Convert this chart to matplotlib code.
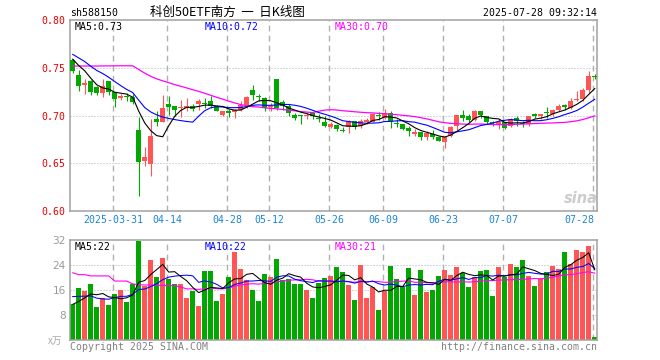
import numpy as np
import pandas as pd
import matplotlib
matplotlib.use("Agg")
from matplotlib import pyplot as plt
from matplotlib.transforms import blended_transform_factory

# daily K-line, 2025-03-20 .. 2025-07-28 (88 trading days)
opens = [0.758, 0.742, 0.7316, 0.736, 0.730, 0.7236, 0.736, 0.7247, 0.718, 0.7205,
         0.719, 0.6847, 0.652, 0.6493, 0.6962, 0.6934, 0.7125, 0.7097, 0.7083, 0.7076,
         0.710, 0.7118, 0.7135, 0.7153, 0.710, 0.7003, 0.7049, 0.704, 0.7056, 0.7111,
         0.7264, 0.7205, 0.7188, 0.709, 0.7378, 0.7146, 0.710, 0.7003, 0.6997, 0.6993,
         0.7028, 0.6976, 0.6934, 0.6882, 0.6903, 0.6847, 0.6882, 0.6941, 0.6885, 0.6934,
         0.6934, 0.7003, 0.6979, 0.7031, 0.6917, 0.691, 0.6868, 0.6806, 0.6823, 0.6771,
         0.6806, 0.6771, 0.6719, 0.6788, 0.6892, 0.7003, 0.6997, 0.6958, 0.7042, 0.6997,
         0.6924, 0.691, 0.6927, 0.6892, 0.6972, 0.6917, 0.691, 0.7014, 0.6997, 0.7031,
         0.7014, 0.7056, 0.7101, 0.7083, 0.716, 0.717, 0.7264, 0.7413]
highs = [0.759, 0.748, 0.738, 0.737, 0.731, 0.738, 0.736, 0.725, 0.723, 0.724,
         0.723, 0.698, 0.6667, 0.6962, 0.7042, 0.7215, 0.7205, 0.7097, 0.7163, 0.7188,
         0.7118, 0.717, 0.7184, 0.7205, 0.711, 0.7052, 0.7073, 0.7066, 0.7153, 0.7205,
         0.7319, 0.7229, 0.719, 0.7135, 0.738, 0.716, 0.7118, 0.7031, 0.7003, 0.7031,
         0.7031, 0.7014, 0.6997, 0.6927, 0.691, 0.6875, 0.6951, 0.6944, 0.6962, 0.6979,
         0.7031, 0.7038, 0.7066, 0.7042, 0.6962, 0.691, 0.6892, 0.6858, 0.683, 0.684,
         0.6847, 0.6788, 0.6771, 0.6892, 0.7003, 0.7056, 0.7014, 0.7056, 0.7049, 0.6997,
         0.6944, 0.6962, 0.6927, 0.6979, 0.6997, 0.6944, 0.6997, 0.7031, 0.7014, 0.709,
         0.7066, 0.7118, 0.7118, 0.7181, 0.7257, 0.7292, 0.7465, 0.7438]
lows = [0.745, 0.726, 0.723, 0.7215, 0.7215, 0.7195, 0.7215, 0.709, 0.716, 0.715,
        0.712, 0.6158, 0.6472, 0.6368, 0.6892, 0.6927, 0.7007, 0.6997, 0.6986, 0.7042,
        0.7042, 0.7056, 0.7083, 0.7076, 0.7045, 0.700, 0.6986, 0.6979, 0.7049, 0.7083,
        0.716, 0.7153, 0.7049, 0.7042, 0.7059, 0.7056, 0.6997, 0.6955, 0.691, 0.6962,
        0.6962, 0.6927, 0.6875, 0.6868, 0.684, 0.6823, 0.6816, 0.6858, 0.6868, 0.691,
        0.6927, 0.6955, 0.6962, 0.6868, 0.6882, 0.6847, 0.6788, 0.6788, 0.6743, 0.6743,
        0.6753, 0.6729, 0.666, 0.6778, 0.6847, 0.6944, 0.6934, 0.6944, 0.6979, 0.691,
        0.6892, 0.6858, 0.6858, 0.6882, 0.6892, 0.6882, 0.6892, 0.6979, 0.6962, 0.6972,
        0.6997, 0.7042, 0.7056, 0.7066, 0.7153, 0.7153, 0.724, 0.7378]
closes = [0.747, 0.731, 0.734, 0.725, 0.724, 0.7305, 0.7247, 0.7177, 0.720, 0.719,
          0.7145, 0.6517, 0.6563, 0.6788, 0.6934, 0.7083, 0.7094, 0.7059, 0.7094, 0.710,
          0.7073, 0.715, 0.7125, 0.710, 0.7049, 0.7049, 0.7024, 0.7055, 0.7111, 0.7194,
          0.7212, 0.7194, 0.7076, 0.710, 0.7083, 0.710, 0.7031, 0.6972, 0.699, 0.7007,
          0.699, 0.6965, 0.6892, 0.691, 0.6858, 0.684, 0.6944, 0.6882, 0.6944, 0.6958,
          0.7014, 0.699, 0.7031, 0.6927, 0.691, 0.6858, 0.684, 0.683, 0.6778, 0.6816,
          0.6771, 0.6736, 0.6771, 0.6882, 0.7003, 0.6969, 0.6951, 0.7049, 0.7003, 0.6927,
          0.6917, 0.6927, 0.6868, 0.6962, 0.6944, 0.691, 0.6997, 0.6997, 0.7014, 0.7021,
          0.7056, 0.7101, 0.7094, 0.7153, 0.7177, 0.7264, 0.7413, 0.7403]
volumes = [11.4, 16.6, 15.7, 18.0, 10.7, 13.4, 11.2, 14.7, 16.0, 12.2,
           17.9, 31.7, 17.3, 25.6, 20.2, 26.2, 19.4, 17.9, 17.9, 13.4,
           15.7, 10.9, 22.1, 22.1, 12.5, 14.7, 20.2, 28.2, 22.7, 19.3,
           16.1, 12.5, 21.1, 20.2, 25.9, 19.3, 19.6, 17.9, 17.9, 16.1,
           13.4, 18.4, 19.8, 20.5, 23.4, 21.9, 17.6, 12.8, 24.0, 13.3,
           17.0, 9.7, 15.7, 23.7, 19.6, 17.0, 23.0, 14.4, 22.4, 15.5,
           16.0, 20.5, 22.4, 20.8, 23.4, 21.4, 17.0, 20.3, 22.2, 22.4,
           14.1, 23.4, 20.2, 24.3, 23.4, 25.6, 20.5, 17.3, 19.8, 21.8,
           23.7, 22.6, 28.2, 24.2, 28.8, 28.3, 30.1, 1.0]

# sessions before the window, only needed to start the moving averages
prior_closes = [0.731, 0.733, 0.726, 0.724, 0.728, 0.722, 0.716, 0.719, 0.719, 0.716,
                0.765, 0.772, 0.778, 0.775, 0.770, 0.768, 0.765, 0.762, 0.763, 0.762,
                0.768, 0.772, 0.774, 0.768, 0.763, 0.764, 0.762, 0.763, 0.759]
prior_volumes = [34.6, 15.7, 30.0, 10.7, 13.4, 11.2, 64.0, 16.0, 12.2, 44.9,
                 40.7, 19.0, 27.1, 21.7, 27.7, 20.9, 19.4, 29.9, 31.4, 15.7,
                 16.0, 15.0, 17.0, 18.0, 16.0, 12.0, 10.0, 11.6, 12.0]

tick_idx = [7, 16, 26, 33, 43, 52, 62, 72, 87]
tick_labels = ["2025-03-31", "04-14", "04-28", "05-12", "05-26",
               "06-09", "06-23", "07-07", "07-28"]
price_ticks = [0.60, 0.65, 0.70, 0.75, 0.80]
vol_ticks = [8, 16, 24, 32]

RED = "#ff5555"
GREEN = "#00a800"
FRAME = "#a0a0a0"
GRID = "#b0b0b0"
MONO = "DejaVu Sans Mono"
CJK = ["Noto Sans CJK SC", "DejaVu Sans"]
FS = 7.1

n = len(closes)
x = np.arange(n)
o = np.array(opens); h = np.array(highs); l = np.array(lows); c = np.array(closes)
v = np.array(volumes)
up = c >= o
colors = np.where(up, RED, GREEN)

def ma(prior, vals, k):
    s = pd.Series(list(prior) + list(vals)).rolling(k).mean()
    return s.iloc[len(prior):].to_numpy()

W, H = 660, 360
fig = plt.figure(figsize=(W / 100, H / 100), dpi=100)

def box(left, top, right, bottom):
    return [left / W, 1 - bottom / H, (right - left) / W, (bottom - top) / H]

def ftext(px, py, s, **kw):
    fig.text(px / W, 1 - py / H, s, va="center", **kw)

ax = fig.add_axes(box(70, 20, 597, 211))
axv = fig.add_axes(box(70, 240, 597, 340))

for a in (ax, axv):
    a.set_xlim(-0.45, n - 0.62)
    for sp in a.spines.values():
        sp.set_color(FRAME)
        sp.set_linewidth(1.1)
    a.set_xticks([])
    a.tick_params(axis="y", length=0, pad=3)
    for t in tick_idx:
        a.axvline(t - 0.3, color=GRID, lw=1.0, dashes=(4.2, 3.0), zorder=0)

# price panel
ax.set_ylim(0.60, 0.80)
for y in price_ticks[1:-1]:
    ax.axhline(y, color=GRID, lw=0.72, linestyle=(0, (1, 2)), zorder=0)
ax.set_yticks(price_ticks)
ax.set_yticklabels([f"{p:.2f}" for p in price_ticks], color="#e80000",
                   fontsize=FS, family=MONO)

ax.vlines(x, l, h, colors=colors, lw=0.8, zorder=2)
body = np.maximum(np.abs(c - o), 0.0011)
ax.bar(x, body, bottom=np.minimum(o, c), width=0.83, color=colors, lw=0, zorder=3)

ax.plot(x, ma(prior_closes, closes, 30), color="#ff00ff", lw=0.9, zorder=4)
ax.plot(x, ma(prior_closes, closes, 10), color="#0000ff", lw=0.8, zorder=4)
ax.plot(x, ma(prior_closes, closes, 5), color="black", lw=0.8, zorder=4)

trans = blended_transform_factory(ax.transData, ax.transAxes)
for i, (t, lab) in enumerate(zip(tick_idx, tick_labels)):
    last = i == len(tick_idx) - 1
    ax.text(t - 0.1 if last else t - 0.3, -0.047, lab, transform=trans,
            ha="right" if last else "center", va="center",
            color="#1a85d6", fontsize=FS, family=MONO)

# sina watermark
ftext(581, 198, "sina", ha="center", fontsize=10.5, fontweight="bold",
      fontstyle="italic", color="#cccccc")

# volume panel
axv.set_ylim(0, 32)
for y in vol_ticks[:-1]:
    axv.axhline(y, color=GRID, lw=0.72, linestyle=(0, (1, 2)), zorder=0)
axv.set_yticks(vol_ticks)
axv.set_yticklabels([str(t) for t in vol_ticks], color="#999999", fontsize=FS + 0.5)
axv.bar(x, v, width=0.88, color=colors, lw=0, zorder=2)
axv.plot(x, ma(prior_volumes, volumes, 30), color="#ff00ff", lw=0.8, zorder=4)
axv.plot(x, ma(prior_volumes, volumes, 10), color="#0000ff", lw=0.75, zorder=4)
axv.plot(x, ma(prior_volumes, volumes, 5), color="black", lw=0.75, zorder=4)

# header and labels
ftext(70, 13, "sh588150", ha="left", fontsize=FS, family=MONO)
ftext(150, 12, "科创50ETF南方  一  日K线图", ha="left", fontsize=9, family=CJK)
ftext(597, 13, "2025-07-28 09:32:14", ha="right", fontsize=FS, family=MONO)

ftext(75, 27, "MA5:0.73", ha="left", fontsize=FS, family=MONO, color="black")
ftext(205, 27, "MA10:0.72", ha="left", fontsize=FS, family=MONO, color="#0000ff")
ftext(335, 27, "MA30:0.70", ha="left", fontsize=FS, family=MONO, color="#ff00ff")
ftext(75, 247, "MA5:22", ha="left", fontsize=FS, family=MONO, color="black")
ftext(205, 247, "MA10:22", ha="left", fontsize=FS, family=MONO, color="#0000ff")
ftext(335, 247, "MA30:21", ha="left", fontsize=FS, family=MONO, color="#ff00ff")

ftext(62, 341, "x万", ha="right", fontsize=7, family=CJK, color="#aaaaaa",
      fontstyle="italic")
ftext(70, 347, "Copyright 2025 SINA.COM", ha="left", fontsize=FS, family=MONO,
      color="#808080")
ftext(597, 347, "http://finance.sina.com.cn", ha="right", fontsize=FS, family=MONO,
      color="#808080")

fig.savefig("out.png", dpi=100)
